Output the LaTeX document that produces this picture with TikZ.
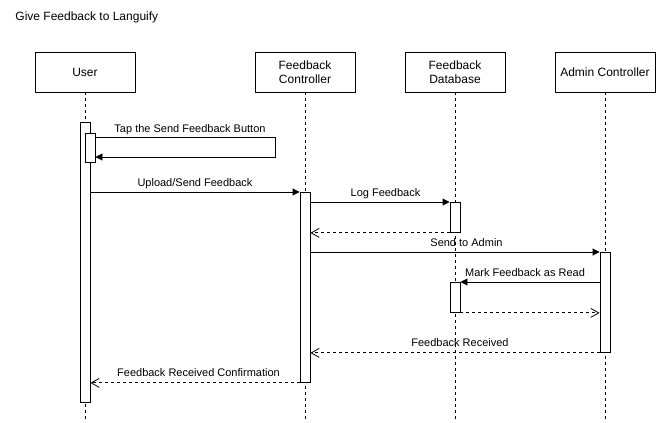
\documentclass[tikz,border=0pt]{standalone}
\usepackage{fontspec}
\setmainfont{Liberation Sans}
\usetikzlibrary{arrows.meta}
\begin{document}
\begin{tikzpicture}[x=1pt,y=-1pt,line width=0.9pt,
  actor/.style={draw,fill=white,minimum width=100pt,minimum height=40pt,align=center,inner sep=0pt,font=\fontsize{12}{14.5}\selectfont},
  act/.style={draw,fill=white,minimum width=10pt,inner sep=0pt,anchor=north},
  life/.style={line width=0.8pt,dash pattern=on 3pt off 3pt},
  msg/.style={-{Triangle[length=7pt,width=7pt]}},
  ret/.style={dash pattern=on 3pt off 3pt,-{Straight Barb[length=8pt,width=9pt,line width=0.8pt]}},
  lbl/.style={font=\fontsize{11}{13}\selectfont,anchor=base,inner sep=0pt}]
\useasboundingbox (0,0) rectangle (656,423);
\node[anchor=base west,inner sep=0pt,font=\fontsize{12}{14}\selectfont] (title) at (15,20) {Give Feedback to Languify};
% actors
\node[actor] (user) at (85,72) {User};
\node[actor] (fc) at (305,72) {Feedback\\Controller};
\node[actor] (db) at (455,72) {Feedback\\Database};
\node[actor] (ad) at (605,72) {Admin Controller};
% lifelines
\coordinate (bot) at (0,420);
\foreach \n in {user,fc,db,ad}{\draw[life] (\n.south) -- (\n.south |- bot);}
% activations
\node[act,minimum height=280pt] (aU) at (85,122) {};
\node[act,minimum height=29pt] (aU2) at (90,133) {};
\node[act,minimum height=190pt] (aFC) at (305,192) {};
\node[act,minimum height=30pt] (aDB1) at (455,202) {};
\node[act,minimum height=100pt] (aAd) at (605,252) {};
\node[act,minimum height=30pt] (aDB2) at (455,282) {};
% self message
\coordinate (selfA) at (275,137);
\coordinate (selfB) at (275,157);
\draw[msg] (aU2.east |- selfA) -- (selfA) -- (selfB) -- (aU2.east |- selfB);
\node[lbl] (lTap) at (190,132) {Tap the Send Feedback Button};
% messages
\draw[msg] (aU.east |- aFC.north) -- (aFC.north west);
\node[lbl] (lUp) at (195,186.5) {Upload/Send Feedback};
\draw[msg] (aFC.east |- aDB1.north) -- (aDB1.north west);
\node[lbl] (lLog) at (385.5,196.5) {Log Feedback};
\draw[ret] (aDB1.south west) -- (aFC.east |- aDB1.south);
\draw[msg] (aFC.east |- aAd.north) -- (aAd.north west);
\node[lbl] (lSend) at (466.5,246.5) {Send to Admin};
\draw[msg] (aAd.west |- aDB2.north) -- (aDB2.north east);
\node[lbl] (lMark) at (525,276.5) {Mark Feedback as Read};
\draw[ret] (aDB2.south east) -- (aAd.west |- aDB2.south);
\draw[ret] (aAd.south west) -- (aFC.east |- aAd.south);
\node[lbl] (lRec) at (460,346.5) {Feedback Received};
\draw[ret] (aFC.south west) -- (aU.east |- aFC.south);
\node[lbl] (lConf) at (198.5,376.5) {Feedback Received Confirmation};
\end{tikzpicture}
\end{document}
